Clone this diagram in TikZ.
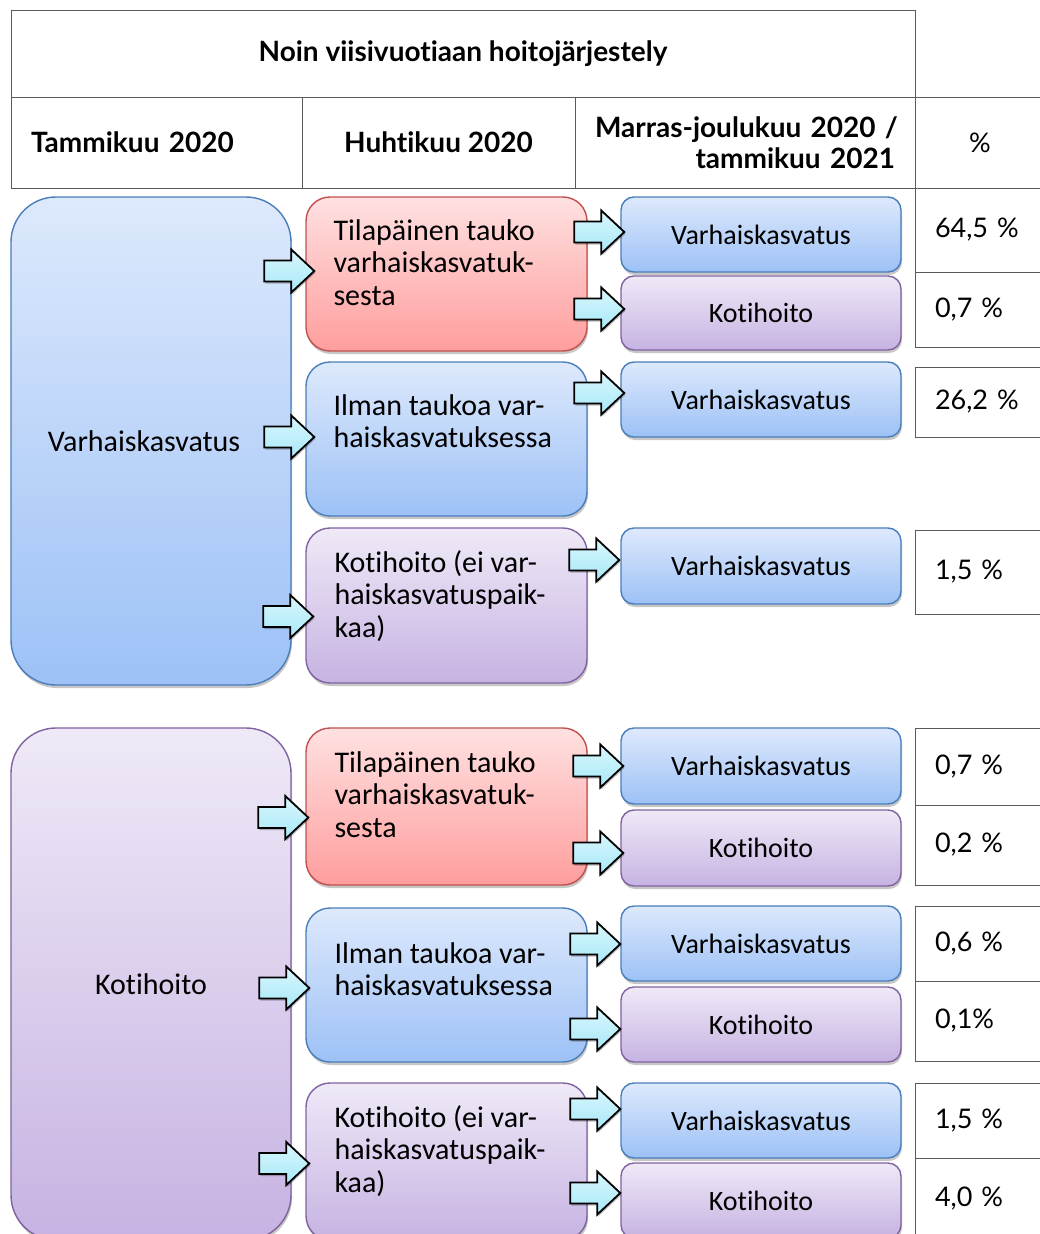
\documentclass[tikz,border=0pt]{standalone}
\usepackage{fontspec}
\setmainfont{Lato}[Ligatures=NoCommon]
\newfontfamily\boxfont{Carlito}[Ligatures=NoCommon]
\usetikzlibrary{shadows,calc}

\definecolor{blueTop}{HTML}{DDE9FC}
\definecolor{blueBot}{HTML}{9DC1F6}
\definecolor{blueLine}{HTML}{4A7EBB}
\definecolor{lilaTop}{HTML}{EFE9F7}
\definecolor{lilaBot}{HTML}{C6B3E2}
\definecolor{lilaLine}{HTML}{7F62A0}
\definecolor{redTop}{HTML}{FFE1E1}
\definecolor{redBot}{HTML}{FF9D9D}
\definecolor{redLine}{HTML}{C0504D}
\definecolor{arrTop}{HTML}{D8F7FD}
\definecolor{arrBot}{HTML}{A8E8F8}
\definecolor{gridLine}{HTML}{5A5A5A}

\tikzset{
  cell/.style={draw=gridLine, line width=1pt, inner xsep=20pt, inner ysep=0pt,
    font=\fontsize{28}{31}\selectfont\bfseries},
  pct/.style={draw=gridLine, line width=1pt, minimum width=130, inner xsep=20pt,
    text width=90, align=left, font=\fontsize{27}{31}\selectfont},
  box/.style={line width=1.4pt, inner sep=0pt,
    drop shadow={shadow xshift=1pt, shadow yshift=-3pt, opacity=0.22, fill=black}},
  bluebox/.style={box, draw=blueLine, top color=blueTop, bottom color=blueBot},
  lilabox/.style={box, draw=lilaLine, top color=lilaTop, bottom color=lilaBot},
  redbox/.style={box, draw=redLine, top color=redTop, bottom color=redBot},
  bigbox/.style={rounded corners=45pt, minimum width=280, font=\boxfont\fontsize{30}{32}\selectfont},
  midbox/.style={rounded corners=24pt, minimum width=281},
  endbox/.style={rounded corners=13pt, minimum width=280, font=\boxfont\fontsize{28}{32}\selectfont},
  midtext/.style={anchor=north west, inner sep=0pt, align=left,
    font=\boxfont\fontsize{30}{32.5}\selectfont},
  flowarrow/.pic={
    \draw[line width=1.8pt, line join=miter, top color=arrTop, bottom color=arrBot,
      drop shadow={shadow xshift=1pt, shadow yshift=-2pt, opacity=0.25, fill=black}]
      (-50,-10.5) -- (-23,-10.5) -- (-23,-21.5) -- (0,0) -- (-23,21.5)
      -- (-23,10.5) -- (-50,10.5) -- cycle;
  }
}

\begin{document}
\begin{tikzpicture}[x=1pt, y=-1pt]
  \useasboundingbox (0,0) rectangle (1040,1234);
  \clip (0,0) rectangle (1040,1234);

  % header of the table
  \node[cell, minimum width=904, minimum height=87] (h0) at (463,53.5) {Noin viisivuotiaan hoitojärjestely};
  \node[cell, minimum width=291, minimum height=91, text width=251, align=left] (h1) at (156.5,142.5) {Tammikuu 2020};
  \node[cell, minimum width=273, minimum height=91, align=center] (h2) at (438.5,142.5) {Huhtikuu 2020};
  \node[cell, minimum width=340, minimum height=91, text width=300, align=right] (h3) at (745,142.5) {\mbox{Marras-joulukuu 2020 /}\\\mbox{tammikuu 2021}};
  \node[cell, minimum width=130, minimum height=91, font=\fontsize{27}{31}\selectfont] (h4) at (980,142.5) {\%};

  % percentages
  \node[pct, minimum height=84] (p1) at (980,230) {64,5 \%};
  \node[pct, minimum height=75] (p2) at (980,309.5) {0,7 \%};
  \node[pct, minimum height=70] (p3) at (980,402) {26,2 \%};
  \node[pct, minimum height=84] (p4) at (980,572) {1,5 \%};
  \node[pct, minimum height=77] (p5) at (980,766.5) {0,7 \%};
  \node[pct, minimum height=80] (p6) at (980,845) {0,2 \%};
  \node[pct, minimum height=75] (p7) at (980,943.5) {0,6 \%};
  \node[pct, minimum height=80] (p8) at (980,1021) {0,1\%};
  \node[pct, minimum height=75] (p9) at (980,1120.5) {1,5 \%};
  \node[pct, minimum height=82] (p10) at (980,1199) {4,0 \%};

  % Tammikuu 2020
  \node[bluebox, bigbox, minimum height=488] (t1) at (151,441) {Varhaiskasvatus\hspace*{14pt}};
  \node[lilabox, bigbox, minimum height=512] (t2) at (151,984) {Kotihoito};

  % Huhtikuu 2020
  \node[redbox, midbox, minimum height=154] (m1) at (446.5,274) {};
  \node[bluebox, midbox, minimum height=154] (m2) at (446.5,439) {};
  \node[lilabox, midbox, minimum height=155] (m3) at (446.5,605.5) {};
  \node[redbox, midbox, minimum height=157] (m4) at (446.5,806.5) {};
  \node[bluebox, midbox, minimum height=154] (m5) at (446.5,985) {};
  \node[lilabox, midbox, minimum height=157] (m6) at (446.5,1161.5) {};
  \node[midtext] at ($(m1.north west)+(28,23)$) {Tilapäinen tauko\\varhaiskasvatuk-\\sesta};
  \node[midtext] at ($(m2.north west)+(28,33)$) {Ilman taukoa var-\\haiskasvatuksessa};
  \node[midtext] at ($(m3.north west)+(29,23)$) {Kotihoito (ei var-\\haiskasvatuspaik-\\kaa)};
  \node[midtext] at ($(m4.north west)+(29,24)$) {Tilapäinen tauko\\varhaiskasvatuk-\\sesta};
  \node[midtext] at ($(m5.north west)+(29,35)$) {Ilman taukoa var-\\haiskasvatuksessa};
  \node[midtext] at ($(m6.north west)+(29,23)$) {Kotihoito (ei var-\\haiskasvatuspaik-\\kaa)};

  % Marras-joulukuu 2020 / tammikuu 2021
  \node[bluebox, endbox, minimum height=75] (r1) at (761,234.5) {Varhaiskasvatus};
  \node[lilabox, endbox, minimum height=74] (r2) at (761,313) {Kotihoito};
  \node[bluebox, endbox, minimum height=75] (r3) at (761,399.5) {Varhaiskasvatus};
  \node[bluebox, endbox, minimum height=76] (r4) at (761,566) {Varhaiskasvatus};
  \node[bluebox, endbox, minimum height=76] (r5) at (761,766) {Varhaiskasvatus};
  \node[lilabox, endbox, minimum height=76] (r6) at (761,848) {Kotihoito};
  \node[bluebox, endbox, minimum height=75] (r7) at (761,943.5) {Varhaiskasvatus};
  \node[lilabox, endbox, minimum height=75] (r8) at (761,1024.5) {Kotihoito};
  \node[bluebox, endbox, minimum height=75] (r9) at (761,1120.5) {Varhaiskasvatus};
  \node[lilabox, endbox, minimum height=75] (r10) at (761,1200.5) {Kotihoito};

  % block arrows, tip at the target box
  \foreach \trg/\dx/\dy in {m1/9/-3, m2/9/-2, m3/8/11, m4/3/11, m5/4/3, m6/4/2,
      r1/4/-2.5, r2/4/-4, r3/4/-6.5, r4/-1/-6, r5/3/0, r6/3/5,
      r7/0/0.5, r8/0/4.5, r9/0/-11.5, r10/0/-7.5}
    \pic at ([xshift=\dx pt, yshift=-\dy pt]\trg.west) {flowarrow};
\end{tikzpicture}
\end{document}
